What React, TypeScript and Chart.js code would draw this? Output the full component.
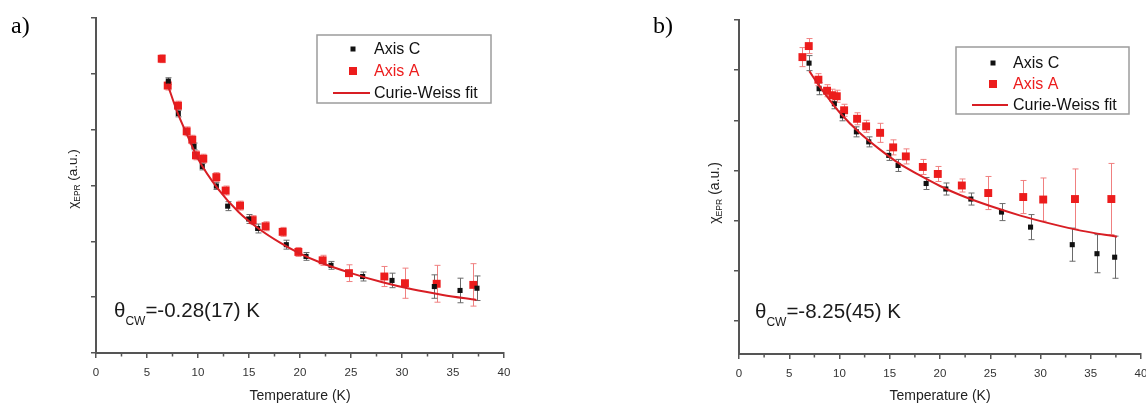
import { useEffect, useRef } from "react";
import { Chart, registerables } from "chart.js";

Chart.register(...registerables);

// ---------------- Panel a) data ----------------
const tempA_axisC = [7.09, 8.07, 9.61, 10.42, 11.8, 12.91, 14.97, 15.85, 18.66, 20.59, 23.04, 26.14, 29.02, 33.17, 35.69, 37.35];
const chiA_axisC = [4.87, 4.29, 3.7, 3.34, 2.99, 2.63, 2.4, 2.23, 1.94, 1.73, 1.57, 1.37, 1.3, 1.19, 1.12, 1.16];
const errA_axisC = [0.06, 0.06, 0.06, 0.06, 0.06, 0.08, 0.08, 0.08, 0.08, 0.07, 0.07, 0.08, 0.13, 0.21, 0.22, 0.22];

const tempA_axisA = [6.44, 7.03, 8.04, 8.89, 9.44, 9.8, 10.52, 11.8, 12.71, 14.12, 15.36, 16.63, 18.3, 19.84, 22.22, 24.8, 28.27, 30.29, 33.4, 36.99];
const chiA_axisA = [5.27, 4.79, 4.43, 3.97, 3.82, 3.54, 3.48, 3.15, 2.91, 2.64, 2.38, 2.27, 2.17, 1.81, 1.66, 1.43, 1.37, 1.25, 1.24, 1.22];
const errA_axisA = [0.07, 0.08, 0.08, 0.08, 0.08, 0.08, 0.08, 0.08, 0.08, 0.08, 0.08, 0.08, 0.08, 0.08, 0.09, 0.15, 0.18, 0.27, 0.33, 0.38];

const fitTempA = [7, 8, 9, 10, 12, 14, 16, 18, 20, 22, 25, 28, 31, 34, 37.3];
const fitChiA = [4.82, 4.3, 3.88, 3.48, 2.93, 2.52, 2.22, 1.98, 1.78, 1.62, 1.43, 1.27, 1.14, 1.04, 0.95];

// ---------------- Panel b) data ----------------
const tempB_axisC = [6.97, 7.97, 9.49, 10.29, 11.68, 12.91, 14.9, 15.83, 18.62, 20.58, 23.07, 26.12, 29.01, 33.16, 35.62, 37.38];
const chiB_axisC = [5.14, 4.63, 4.33, 4.09, 3.77, 3.57, 3.3, 3.1, 2.74, 2.63, 2.43, 2.17, 1.87, 1.52, 1.34, 1.27];
const errB_axisC = [0.15, 0.12, 0.1, 0.1, 0.1, 0.1, 0.1, 0.12, 0.12, 0.12, 0.12, 0.17, 0.25, 0.33, 0.38, 0.42];

const tempB_axisA = [6.31, 6.94, 7.9, 8.76, 9.29, 9.73, 10.46, 11.75, 12.65, 14.04, 15.34, 16.6, 18.29, 19.78, 22.17, 24.8, 28.28, 30.27, 33.43, 37.05];
const chiB_axisA = [5.26, 5.48, 4.81, 4.59, 4.5, 4.48, 4.2, 4.03, 3.88, 3.75, 3.46, 3.28, 3.07, 2.93, 2.7, 2.55, 2.47, 2.42, 2.43, 2.43];
const errB_axisA = [0.19, 0.15, 0.12, 0.12, 0.12, 0.12, 0.12, 0.12, 0.12, 0.19, 0.15, 0.15, 0.15, 0.15, 0.13, 0.33, 0.33, 0.43, 0.6, 0.71];

const fitTempB = [7, 8, 9, 10, 12, 14, 16, 18, 20, 22, 25, 28, 31, 34, 37.6];
const fitChiB = [4.98, 4.68, 4.41, 4.16, 3.75, 3.42, 3.13, 2.9, 2.69, 2.51, 2.29, 2.1, 1.94, 1.8, 1.68];

// ---------------- texts ----------------
const xTitle = "Temperature (K)";
const legendLabels = ["Axis C", "Axis A", "Curie-Weiss fit"];
const thetaA = "=-0.28(17) K";
const thetaB = "=-8.25(45) K";
const xMinorTicks = [2.5, 7.5, 12.5, 17.5, 22.5, 27.5, 32.5, 37.5];

const SANS = '"Liberation Sans", Arial, Helvetica, sans-serif';
const SERIF = '"Liberation Serif", "Times New Roman", serif';
const RED = "#ec1c1c";
const RED_ERR = "#f08080";
const FIT_RED = "#d81e24";
const BLACK = "#111111";
const BLACK_ERR = "#6a6a6a";
const AXIS = "#555555";

type Panel = {
  label: string;
  theta: string;
  yMin: number;
  tC: number[]; vC: number[]; eC: number[];
  tA: number[]; vA: number[]; eA: number[];
  tFit: number[]; vFit: number[];
  left: number; canvasW: number; yAxisW: number; padTop: number; padRight: number; xAxisH: number;
  legend: { x0: number; y0: number; x1: number; y1: number; rows: number[]; markerX: number; textX: number; lineX0: number; lineX1: number };
  thetaX: number; thetaY: number;
  yTitleX: number; yTitleY: number; yTitleSize: number;
  labelX: number;
};

const panels: Panel[] = [
  {
    label: "a)", theta: thetaA, yMin: 0,
    tC: tempA_axisC, vC: chiA_axisC, eC: errA_axisC,
    tA: tempA_axisA, vA: chiA_axisA, eA: errA_axisA,
    tFit: fitTempA, vFit: fitChiA,
    left: 0, canvasW: 573, yAxisW: 96, padTop: 18, padRight: 69, xAxisH: 53,
    legend: { x0: 317, y0: 35, x1: 491, y1: 103, rows: [49, 71, 93], markerX: 353, textX: 374, lineX0: 333, lineX1: 370 },
    thetaX: 114, thetaY: 317,
    yTitleX: 73, yTitleY: 179, yTitleSize: 13.5,
    labelX: 11,
  },
  {
    label: "b)", theta: thetaB, yMin: -0.66,
    tC: tempB_axisC, vC: chiB_axisC, eC: errB_axisC,
    tA: tempB_axisA, vA: chiB_axisA, eA: errB_axisA,
    tFit: fitTempB, vFit: fitChiB,
    left: 573, canvasW: 590, yAxisW: 166, padTop: 20, padRight: 22, xAxisH: 52,
    legend: { x0: 383, y0: 47, x1: 556, y1: 114, rows: [63, 84, 105], markerX: 420, textX: 440, lineX0: 399, lineX1: 435 },
    thetaX: 182, thetaY: 318,
    yTitleX: 142, yTitleY: 193, yTitleSize: 14,
    labelX: 80,
  },
];

function decoPlugin(p: Panel) {
  return {
    id: "deco",
    beforeDatasetsDraw(chart: any) {
      const ctx = chart.ctx;
      const xs = chart.scales.x;
      const ys = chart.scales.y;
      const drawErr = (ts: number[], vs: number[], es: number[], color: string) => {
        ctx.save();
        ctx.strokeStyle = color;
        ctx.lineWidth = 1;
        ts.forEach((t, i) => {
          const x = Math.round(xs.getPixelForValue(t)) + 0.5;
          const yTop = ys.getPixelForValue(vs[i] + es[i]);
          const yBot = ys.getPixelForValue(vs[i] - es[i]);
          ctx.beginPath();
          ctx.moveTo(x, yTop);
          ctx.lineTo(x, yBot);
          ctx.moveTo(x - 3, yTop);
          ctx.lineTo(x + 3, yTop);
          ctx.moveTo(x - 3, yBot);
          ctx.lineTo(x + 3, yBot);
          ctx.stroke();
        });
        ctx.restore();
      };
      drawErr(p.tA, p.vA, p.eA, RED_ERR);
      drawErr(p.tC, p.vC, p.eC, BLACK_ERR);
    },
    afterDraw(chart: any) {
      const ctx = chart.ctx;
      const xs = chart.scales.x;
      const area = chart.chartArea;
      ctx.save();

      // minor x ticks
      ctx.strokeStyle = AXIS;
      ctx.lineWidth = 1.5;
      xMinorTicks.forEach((v) => {
        const x = xs.getPixelForValue(v);
        ctx.beginPath();
        ctx.moveTo(x, area.bottom);
        ctx.lineTo(x, area.bottom + 3.5);
        ctx.stroke();
      });

      // x title
      ctx.fillStyle = "#222";
      ctx.font = `14px ${SANS}`;
      ctx.textAlign = "center";
      ctx.textBaseline = "middle";
      ctx.fillText(xTitle, (area.left + area.right) / 2, 396);

      // y title (rotated, with subscript)
      ctx.save();
      ctx.translate(p.yTitleX, p.yTitleY);
      ctx.rotate(-Math.PI / 2);
      ctx.textAlign = "left";
      ctx.textBaseline = "alphabetic";
      const big = `${p.yTitleSize}px ${SANS}`;
      const small = `${p.yTitleSize * 0.62}px ${SANS}`;
      ctx.font = big;
      const wChi = ctx.measureText("χ").width;
      const wRest = ctx.measureText(" (a.u.)").width;
      ctx.font = small;
      const wSub = ctx.measureText("EPR").width;
      let x = -(wChi + wSub + wRest) / 2;
      ctx.fillStyle = "#222";
      ctx.font = big;
      ctx.fillText("χ", x, 4);
      x += wChi;
      ctx.font = small;
      ctx.fillText("EPR", x, 7);
      x += wSub;
      ctx.font = big;
      ctx.fillText(" (a.u.)", x, 4);
      ctx.restore();

      // theta annotation
      ctx.textAlign = "left";
      ctx.textBaseline = "alphabetic";
      ctx.fillStyle = "#1a1a1a";
      ctx.font = `20.5px ${SANS}`;
      let tx = p.thetaX;
      ctx.fillText("θ", tx, p.thetaY);
      tx += ctx.measureText("θ").width;
      ctx.font = `12px ${SANS}`;
      ctx.fillText("CW", tx, p.thetaY + 8);
      tx += ctx.measureText("CW").width;
      ctx.font = `20.5px ${SANS}`;
      ctx.fillText(p.theta, tx, p.thetaY);

      // legend
      const L = p.legend;
      ctx.strokeStyle = "#9c9c9c";
      ctx.lineWidth = 1.5;
      ctx.strokeRect(L.x0, L.y0, L.x1 - L.x0, L.y1 - L.y0);
      ctx.fillStyle = BLACK;
      ctx.fillRect(L.markerX - 2.5, L.rows[0] - 2.5, 5, 5);
      ctx.fillStyle = RED;
      ctx.fillRect(L.markerX - 4, L.rows[1] - 4, 8, 8);
      ctx.strokeStyle = FIT_RED;
      ctx.lineWidth = 2;
      ctx.beginPath();
      ctx.moveTo(L.lineX0, L.rows[2]);
      ctx.lineTo(L.lineX1, L.rows[2]);
      ctx.stroke();
      ctx.font = `16px ${SANS}`;
      ctx.textBaseline = "middle";
      ctx.fillStyle = "#111";
      ctx.fillText(legendLabels[0], L.textX, L.rows[0] + 1);
      ctx.fillStyle = RED;
      ctx.fillText(legendLabels[1], L.textX, L.rows[1] + 1);
      ctx.fillStyle = "#111";
      ctx.fillText(legendLabels[2], L.textX, L.rows[2] + 1);

      // panel label
      ctx.font = `24px ${SERIF}`;
      ctx.textBaseline = "alphabetic";
      ctx.fillStyle = "#000";
      ctx.fillText(p.label, p.labelX, 33);

      ctx.restore();
    },
  };
}

function PanelChart({ p }: { p: Panel }) {
  const ref = useRef<HTMLCanvasElement | null>(null);
  useEffect(() => {
    if (!ref.current) return;
    const chart = new Chart(ref.current, {
      type: "scatter",
      data: {
        datasets: [
          {
            type: "line",
            label: legendLabels[2],
            data: p.tFit.map((t, i) => ({ x: t, y: p.vFit[i] })),
            borderColor: FIT_RED,
            borderWidth: 2,
            pointRadius: 0,
            fill: false,
            cubicInterpolationMode: "monotone",
          } as any,
          {
            label: legendLabels[0],
            data: p.tC.map((t, i) => ({ x: t, y: p.vC[i] })),
            pointStyle: "rect",
            pointRadius: 3.6,
            backgroundColor: BLACK,
            borderWidth: 0,
          },
          {
            label: legendLabels[1],
            data: p.tA.map((t, i) => ({ x: t, y: p.vA[i] })),
            pointStyle: "rect",
            pointRadius: 5.6,
            backgroundColor: RED,
            borderWidth: 0,
          },
        ],
      },
      options: {
        responsive: false,
        animation: false,
        events: [],
        layout: { padding: { left: 0, right: p.padRight, top: p.padTop, bottom: 0 } },
        plugins: { legend: { display: false }, tooltip: { enabled: false }, title: { display: false } },
        scales: {
          x: {
            type: "linear",
            min: 0,
            max: 40,
            ticks: { stepSize: 5, color: "#333", font: { family: SANS, size: 11.5 }, padding: 8, maxRotation: 0, autoSkip: false },
            grid: { drawOnChartArea: false, drawTicks: true, tickLength: 5, color: AXIS, lineWidth: 1.5 },
            border: { display: true, color: AXIS, width: 2 },
            afterFit: (s: any) => {
              s.height = p.xAxisH;
              s.paddingLeft = 0;
              s.paddingRight = 0;
            },
          },
          y: {
            type: "linear",
            min: p.yMin,
            max: 6,
            ticks: { display: false, stepSize: 1 },
            afterBuildTicks: (s: any) => {
              s.ticks = s.ticks.filter((t: any) => Math.abs(t.value - Math.round(t.value)) < 1e-6);
            },
            grid: { drawOnChartArea: false, drawTicks: true, tickLength: 5, color: AXIS, lineWidth: 1.5 },
            border: { display: true, color: AXIS, width: 2 },
            afterFit: (s: any) => {
              s.width = p.yAxisW;
              s.paddingTop = 0;
              s.paddingBottom = 0;
            },
          },
        },
      } as any,
      plugins: [decoPlugin(p)],
    });
    return () => chart.destroy();
  }, [p]);
  return (
    <canvas
      ref={ref}
      width={p.canvasW}
      height={406}
      style={{ position: "absolute", left: p.left, top: 0, width: p.canvasW, height: 406 }}
    />
  );
}

export default function App() {
  return (
    <div
      style={{
        position: "absolute",
        left: 0,
        top: 0,
        width: 1146,
        height: 406,
        overflow: "hidden",
        background: "#fff",
      }}
    >
      {panels.map((p) => (
        <PanelChart key={p.label} p={p} />
      ))}
    </div>
  );
}
